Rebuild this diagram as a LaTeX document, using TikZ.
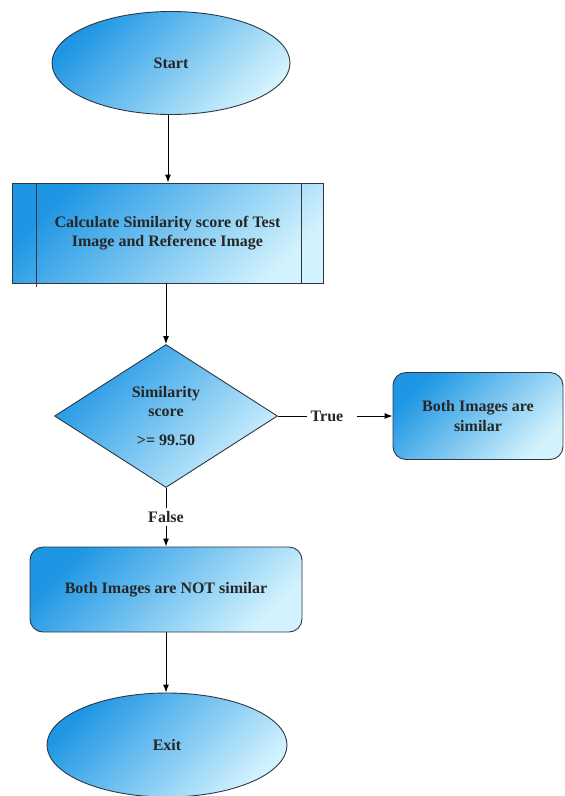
\documentclass[tikz,border=0pt]{standalone}
\usepackage{fontspec}
\setmainfont{Liberation Serif}
\usepackage{xcolor}
\usetikzlibrary{shapes.geometric,arrows.meta}

\definecolor{flowdark}{RGB}{30,150,228}
\definecolor{flowmid}{RGB}{120,200,243}
\definecolor{flowlight}{RGB}{210,242,253}
\definecolor{flowedge}{RGB}{45,56,68}

\tikzset{
  flowfill/.style={draw=flowedge, line width=0.9pt, top color=flowdark, middle color=flowmid, bottom color=flowlight, shading angle=45},
  flowtext/.style={font=\bfseries\fontsize{16}{19.5}\selectfont, text=black!85},
  terminal/.style={flowfill, flowtext, ellipse, inner sep=0pt},
  procbox/.style={flowfill, flowtext, rectangle, inner sep=0pt, align=center},
  resultbox/.style={flowfill, flowtext, rectangle, rounded corners=13pt, inner sep=0pt, align=center},
  decision/.style={flowfill, flowtext, diamond, inner sep=0pt, align=center},
  flowarrow/.style={-{Latex[length=8pt,width=6pt]}, line width=1pt},
}

\begin{document}
\begin{tikzpicture}[x=1pt, y=-1pt]
  \useasboundingbox (0,0) rectangle (565,796);

  % Start oval
  \node[terminal, minimum width=238pt, minimum height=103pt] (start) at (171,63) {Start};

  % Similarity calculation
  \node[procbox, minimum width=311pt, minimum height=100pt] (calc) at (167.5,233)
    {Calculate Similarity score of Test\\Image and Reference Image};
  \draw[flowedge, line width=0.9pt] ([xshift=25pt]calc.north west) -- ([xshift=25pt,yshift=-4pt]calc.south west);
  \draw[flowedge, line width=0.9pt] ([xshift=-22pt]calc.north east) -- ([xshift=-22pt]calc.south east);

  % Decision
  \node[decision, minimum width=223pt, minimum height=143pt] (check) at (166,416)
    {Similarity\\score\\[9pt]>= 99.50};

  % Results
  \node[resultbox, minimum width=170pt, minimum height=87pt] (same) at (478,416)
    {Both Images are\\similar};
  \node[resultbox, minimum width=272pt, minimum height=85pt] (diff) at (166,589.5)
    {Both Images are NOT similar};

  % Exit oval
  \node[terminal, minimum width=240pt, minimum height=104pt] (exit) at (167,745) {Exit};

  % Branch labels
  \node[flowtext] (truelbl) at (327,416) {True};
  \node[flowtext] (falselbl) at (166,517) {False};

  % Connectors
  \draw[flowarrow] (start.south -| 168,0) -- (calc.north -| 168,0);
  \draw[flowarrow] (calc.south -| 166,0) -- (check.north);
  \draw[line width=1pt] (check.east) -- (truelbl.west);
  \draw[flowarrow] ([xshift=10pt]truelbl.east) -- (same.west);
  \draw[line width=1pt] (check.south) -- (falselbl.north);
  \draw[flowarrow] (falselbl.south) -- (diff.north);
  \draw[flowarrow] (diff.south) -- (exit.north -| diff.south);
\end{tikzpicture}
\end{document}
